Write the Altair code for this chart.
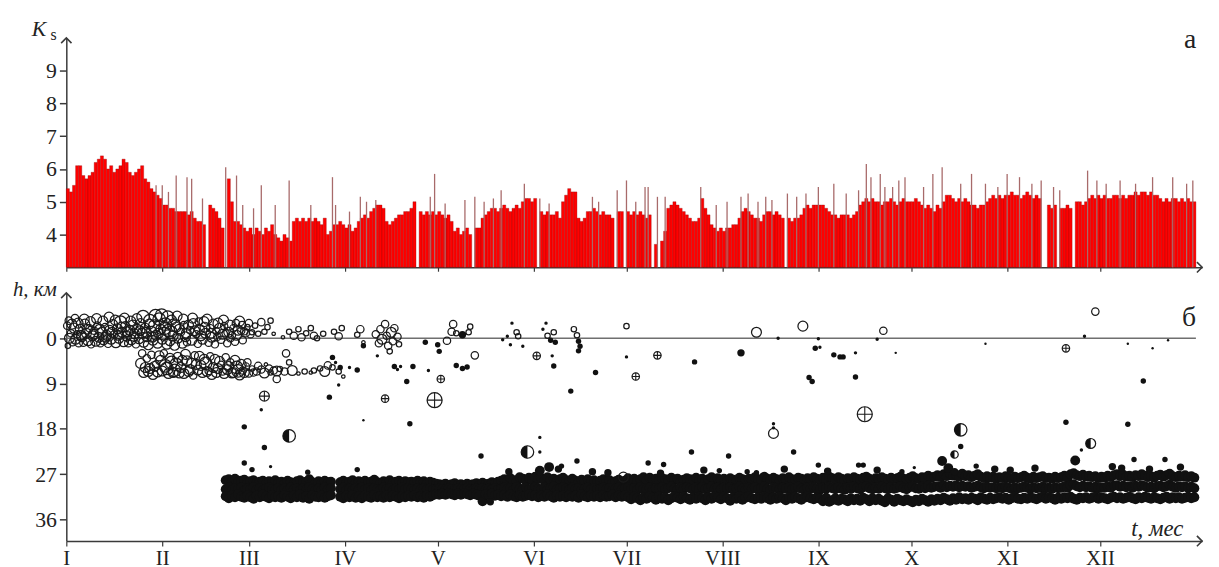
import json
import altair as alt
import pandas as pd

# ---------------- axis categories ----------------
month_start = [0, 31, 59, 90, 120, 151, 181, 212, 243, 273, 304, 334]
month_roman = ["I", "II", "III", "IV", "V", "VI", "VII", "VIII", "IX", "X", "XI", "XII"]
ks_ticks = [4, 5, 6, 7, 8, 9]
h_ticks = [0, 9, 18, 27, 36]

# ---------------- panel a: daily Ks envelope (None = no data) ----------------
ks_jan = [5.4, 5.3, 5.5, 6.1, 6.1, 5.8, 5.7, 5.8, 5.9, 6.2, 6.3, 6.4, 6.3, 6.0, 6.1, 5.9,
          6.0, 6.1, 6.3, 6.2, 5.9, 5.8, 5.9, 6.0, 6.1, 5.7, 5.6, 5.4, 5.3, 5.2, 5.1]
ks_feb = [4.9, 4.9, 4.8, 4.8, 4.7, 4.7, 4.7, 4.7, 4.6, 4.7, 4.5, 4.4, 4.4, 4.3, None,
          4.9, 4.8, 4.7, 4.5, 4.2, None, 5.7, 5.0, 4.4, 4.4, 4.3, 4.2, 4.1]
ks_mar = [4.2, 4.0, 4.2, 4.1, 4.0, 4.2, 4.1, 4.3, 4.0, 3.9, 3.8, 4.0, 3.9, 3.8, 4.4, 4.5,
          4.4, 4.5, 4.4, 4.5, 4.4, 4.5, 4.4, 4.3, 4.5, 4.0, 4.1, 4.3, 4.3, 4.4, 4.3]
ks_apr = [4.2, 4.3, 4.1, 4.2, 4.4, 4.5, 4.6, 4.5, 4.7, 4.8, 4.9, 4.9, 4.8, 4.4, 4.3,
          4.4, 4.5, 4.6, 4.6, 4.7, 4.7, 4.8, 5.0, None, 4.7, 4.6, 4.7, 4.6, 4.7, 4.6]
ks_may = [4.7, 4.6, 4.5, 4.6, 4.4, 4.1, 4.2, 4.0, 4.1, 4.2, 4.0, None, 4.2, 4.2, 4.5, 4.6,
          4.7, 4.8, 4.8, 4.7, 4.8, 4.9, 4.8, 4.7, 4.8, 4.9, 4.8, 5.0, 5.1, 5.1, 5.0]
ks_jun = [5.1, None, 4.7, 4.6, 4.7, 4.6, 4.6, 4.7, 4.5, 5.0, 5.2, 5.4, 5.3, 5.3, 4.5,
          4.4, 4.5, 4.7, 4.7, 4.8, 4.7, 4.6, 4.7, 4.6, 4.6, 4.5, None, 4.7, 4.7, None]
ks_jul = [4.7, 4.6, 4.7, 4.6, 4.7, 4.6, 4.5, 4.6, None, 3.7, None, 3.8, 4.1, 4.8, 4.9, 5.0,
          4.9, 4.8, 4.7, 4.6, 4.5, 4.4, 4.4, 4.5, 5.1, 4.8, 4.6, 4.3, 4.2, 4.1, 4.2]
ks_aug = [4.1, 4.2, 4.2, 4.3, 4.3, 4.5, 4.7, 4.8, 4.7, 4.6, 4.5, 4.5, 4.4, 4.6, 4.7, 4.7,
          4.6, 4.7, 4.6, 4.5, None, 4.5, 4.4, 4.5, 4.5, 4.6, 4.8, 4.9, 4.8, 4.9, 4.9]
ks_sep = [4.9, 4.9, 4.8, 4.7, 4.6, 4.6, 4.5, 4.6, 4.6, 4.6, 4.5, 4.6, 4.7, 4.9, 5.0,
          5.1, 5.0, 5.1, 5.0, 5.0, 4.9, 5.0, 5.0, 5.1, 5.0, 4.9, 5.0, 5.1, 5.0, 5.0]
ks_oct = [5.0, 5.1, 5.0, 4.9, 4.8, 4.9, 4.8, 4.7, 4.9, 4.8, 5.0, 5.2, 5.2, 5.1, 5.0, 5.1,
          5.0, 5.1, 5.0, 4.9, 4.9, 4.8, 4.9, 4.9, 5.0, 5.1, 5.2, 5.1, 5.2, 5.1, 5.2]
ks_nov = [5.2, 5.3, 5.2, 5.2, 5.1, 5.2, 5.3, 5.2, 5.1, 5.2, 5.1, None, None, 4.9, 4.8,
          4.9, None, 4.8, 4.8, 4.9, 4.8, None, 5.0, 5.0, 4.9, 5.0, 5.1, 5.2, 5.1, 5.2]
ks_dec = [5.1, 5.2, 5.1, 5.1, 5.2, 5.2, 5.1, 5.2, 5.1, 5.2, 5.2, 5.3, 5.2, 5.3, 5.3, 5.2,
          5.3, 5.2, 5.2, 5.1, 5.0, 5.1, 5.0, 5.1, 5.1, 5.0, 5.1, 5.0, 5.1, 5.0, 5.0]

# isolated stronger events drawn as thin spikes (day, Ks)
ks_spikes = [(29, 5.5), (31, 5.5), (33, 5.3), (35.5, 5.8), (39, 5.75), (40.5, 5.7), (44, 5.1),
             (51.5, 6.05), (55, 5.8), (57, 4.9), (60.5, 4.8), (63, 5.5), (67.5, 4.9), (72, 5.65),
             (79, 4.9), (86, 5.75), (87, 4.9), (91.5, 4.7), (95, 5.15), (97, 5.0), (100, 5.05),
             (117.6, 5.15), (119, 5.85), (122.4, 4.95), (128.8, 5.05), (132, 5.15), (135, 5.0),
             (138, 5.1), (140.5, 5.35), (148, 5.55), (153, 5.1), (156, 4.95), (170, 5.15),
             (172, 5.0), (178, 5.35), (181, 5.65), (184, 5.0), (187, 5.45), (188, 5.45),
             (191, 5.15), (193.5, 5.15), (205, 5.45), (210, 4.9), (213.5, 5.0), (218, 5.15),
             (220.3, 5.25), (223.5, 5.0), (226, 5.15), (228, 5.05), (233, 5.25), (236, 5.15),
             (239, 5.25), (243, 5.45), (248, 5.55), (252, 5.25), (256, 5.35), (258.5, 6.15),
             (260, 5.75), (263, 5.85), (264.5, 5.45), (267, 5.45), (269, 5.65), (271, 5.75),
             (277, 5.45), (280, 5.85), (283, 6.05), (289, 5.55), (292.5, 5.85), (297, 5.55),
             (301, 5.45), (304, 5.85), (308, 5.75), (312, 5.55), (315, 5.65), (319, 5.45),
             (321, 5.35), (330, 5.95), (333, 5.65), (336, 5.55), (340.5, 5.65), (345.5, 5.55),
             (351, 5.75), (357.5, 5.75), (362, 5.55), (364, 5.65)]

# ---------------- panel b: hypocentres ----------------
# deep band, one value per day starting at day 51 (upper / middle / lower parts of the band)
band_first_day = 51
band_up = [28.2, 28.0, 28.4, 27.9, 28.6, 28.3, 28.1, 28.7, 28.4, 28.2,
           28.8, 28.5, 28.3, 28.9, 28.4, 28.6, 28.2, 28.7, 28.5, 28.9,
           28.3, 28.6, 28.8, 28.4, 28.2, 28.7, 28.5, 28.0, 28.6, 28.8,
           28.4, 28.7, 28.3, 28.6, 28.5, None, None, 28.6, 28.3, 28.7,
           28.5, 28.2, 28.8, 28.4, 28.6, 28.3, 28.7, 28.5, 28.1, 28.6,
           28.8, 28.4, 28.6, 28.2, 28.7, 28.5, 28.3, 28.8, 28.4, 28.6,
           28.5, 28.7, 28.3, 28.6, 28.4, 28.8, 28.5, 28.7, 28.9, 29.0,
           29.1, 28.9, 29.2, 29.0, 28.8, 29.1, 29.0, 29.2, 28.9, 29.1,
           29.0, 28.8, 29.1, 28.7, 29.0, 28.9, 28.6, 28.8, 28.5, 28.3,
           28.0, 28.4, 27.8, 28.2, 28.5, 27.6, 27.9, 28.3, 27.7, 28.1,
           27.5, 28.0, 27.8, 28.3, 27.6, 28.1, 27.9, 28.4, 28.0, 27.7,
           28.2, 28.5, 27.9, 28.3, 28.6, 28.1, 28.4, 28.0, 28.5, 28.2,
           28.6, 28.3, 28.0, 28.5, 28.2, 28.7, 28.4, 28.1, 28.6, 28.3,
           27.8, 28.2, 27.9, 28.4, 28.0, 27.6, 28.3, 27.7, 28.1, 27.9,
           28.3, 27.8, 28.0, 28.4, 27.7, 28.2, 27.9, 28.5, 28.1, 27.8,
           28.0, 28.4, 27.7, 28.2, 27.9, 28.3, 28.0, 27.6, 28.1, 27.8,
           28.2, 27.9, 28.4, 27.8, 28.1, 28.3, 27.7, 28.0, 28.2, 27.9,
           28.3, 27.6, 28.0, 28.2, 27.5, 27.9, 28.1, 27.7, 28.0, 28.3,
           27.8, 28.1, 27.6, 28.0, 28.2, 27.7, 27.9, 28.3, 27.8, 28.0,
           27.6, 27.9, 28.2, 27.7, 28.0, 27.5, 27.8, 28.1, 27.6, 27.9,
           28.2, 27.8, 28.0, 27.6, 27.9, 28.1, 27.7, 27.5, 27.9, 28.2,
           27.8, 28.0, 27.6, 27.9, 28.1, 27.7, 28.0, 27.8, 27.5, 27.9,
           28.1, 27.7, 27.4, 27.8, 28.0, 27.6, 27.9, 27.3, 27.7, 27.5,
           27.2, 27.6, 27.0, 27.4, 26.8, 27.3, 27.1, 27.5, 26.9, 27.4,
           27.2, 27.6, 27.3, 27.0, 27.5, 27.8, 27.4, 27.7, 27.5, 27.9,
           27.6, 27.8, 27.4, 27.7, 27.9, 27.5, 27.8, 27.6, 27.3, 27.7,
           27.9, 27.5, 27.8, 27.6, 27.4, 27.8, 27.7, 27.9, 27.5, 27.8,
           27.6, 27.3, 27.7, 27.0, 26.8, 27.2, 27.4, 27.1, 27.5, 27.3,
           27.6, 27.4, 27.8, 27.5, 27.7, 27.3, 27.6, 27.2, 27.0, 27.4,
           27.1, 27.5, 27.3, 27.6, 27.2, 27.4, 27.0, 27.3, 27.6, 27.4,
           27.7, 27.3, 27.1, 27.5, 27.2, 26.9, 27.4, 27.6, 27.3, 27.5,
           27.2, 27.6, 27.4, 27.7]
band_mid = [30.0, 29.6, 30.2, 29.8, 30.1, 29.7, 30.3, 29.9, 30.0, 29.6,
            30.1, 29.8, 30.2, 29.9, 29.7, 30.0, 30.2, 29.8, 30.1, 29.9,
            30.2, 29.7, 30.0, 29.9, 30.3, 29.8, 30.1, 29.6, 30.0, 30.2,
            29.9, 30.1, 29.7, 30.0, 29.8, None, None, 30.0, 29.7, 30.1,
            29.9, 30.2, 29.8, 30.0, 29.7, 30.1, 29.9, 30.2, 29.8, 30.0,
            30.1, 29.7, 30.0, 29.8, 30.2, 29.9, 30.1, 29.7, 30.0, 29.8,
            30.0, 30.2, 29.9, 30.1, 29.8, 30.0, 29.9, 30.1, 30.0, 29.9,
            30.0, 30.1, 29.9, 30.0, 30.2, 29.9, 30.0, 30.1, 29.8, 30.0,
            30.1, 29.9, 30.0, 29.8, 30.1, 29.9, 30.0, 29.8, 30.1, 29.9,
            29.7, 30.0, 29.8, 30.1, 29.6, 29.9, 30.0, 29.7, 30.1, 29.8,
            29.6, 29.9, 30.0, 29.7, 30.1, 29.8, 29.5, 30.0, 29.8, 29.6,
            29.9, 30.1, 29.7, 30.0, 29.8, 30.1, 29.9, 29.7, 30.0, 29.8,
            30.1, 29.9, 29.7, 30.0, 29.8, 30.2, 29.9, 29.7, 30.0, 29.8,
            29.7, 30.0, 29.8, 30.1, 29.6, 29.9, 30.0, 29.7, 30.1, 29.8,
            29.9, 29.6, 30.0, 29.8, 29.5, 29.9, 30.1, 29.7, 29.9, 29.6,
            29.8, 30.0, 29.7, 29.9, 29.6, 30.0, 29.8, 29.5, 29.9, 29.7,
            30.0, 29.7, 29.9, 29.6, 30.0, 29.8, 29.5, 29.9, 30.1, 29.7,
            29.9, 29.6, 30.0, 29.8, 29.5, 29.9, 30.1, 29.7, 29.8, 30.0,
            29.7, 29.9, 29.6, 30.0, 29.8, 29.5, 29.9, 30.1, 29.7, 29.9,
            29.6, 29.9, 30.1, 29.7, 29.9, 29.5, 29.8, 30.0, 29.6, 29.9,
            30.1, 29.7, 29.9, 29.5, 29.8, 30.0, 29.6, 29.4, 29.8, 30.0,
            29.7, 29.9, 29.5, 29.8, 30.0, 29.6, 29.9, 29.7, 29.4, 29.8,
            30.0, 29.6, 29.4, 29.8, 29.9, 29.5, 29.8, 29.3, 29.7, 29.5,
            29.4, 29.7, 29.2, 29.6, 29.3, 29.5, 29.2, 29.6, 29.3, 29.5,
            29.4, 29.7, 29.5, 29.3, 29.6, 29.8, 29.5, 29.7, 29.6, 29.8,
            29.6, 29.8, 29.5, 29.7, 29.9, 29.6, 29.8, 29.7, 29.4, 29.7,
            29.9, 29.6, 29.8, 29.7, 29.5, 29.8, 29.7, 29.9, 29.6, 29.8,
            29.7, 29.4, 29.7, 29.2, 29.0, 29.4, 29.6, 29.3, 29.6, 29.4,
            29.7, 29.5, 29.8, 29.6, 29.7, 29.4, 29.7, 29.3, 29.2, 29.5,
            29.3, 29.6, 29.4, 29.7, 29.3, 29.5, 29.2, 29.4, 29.7, 29.5,
            29.8, 29.4, 29.3, 29.6, 29.4, 29.1, 29.5, 29.7, 29.4, 29.6,
            29.4, 29.7, 29.5, 29.8]
band_lo = [31.4, 31.8, 31.2, 31.6, 31.0, 31.5, 31.7, 31.3, 31.6, 31.9,
           31.3, 31.6, 31.1, 31.5, 31.8, 31.2, 31.6, 31.4, 31.7, 31.2,
           31.5, 31.8, 31.3, 31.6, 31.1, 31.7, 31.4, 31.9, 31.2, 31.5,
           31.6, 31.3, 31.7, 31.4, 31.2, None, None, 31.5, 31.8, 31.3,
           31.6, 31.2, 31.7, 31.4, 31.8, 31.3, 31.5, 31.7, 31.2, 31.6,
           31.4, 31.7, 31.3, 31.6, 31.2, 31.5, 31.8, 31.4, 31.6, 31.3,
           31.5, 31.2, 31.6, 31.4, 31.7, 31.3, 31.5, 31.2, 31.0, 31.1,
           30.9, 31.1, 30.8, 31.0, 31.2, 30.9, 31.1, 30.8, 31.0, 31.2,
           30.9, 31.1, 31.3, 32.4, 31.0, 31.2, 30.9, 31.3, 31.1, 31.4,
           31.2, 31.5, 31.1, 31.4, 31.6, 31.2, 31.5, 31.3, 31.0, 31.4,
           31.2, 31.6, 31.3, 31.5, 31.1, 31.4, 31.7, 31.2, 31.5, 31.3,
           31.6, 31.2, 31.5, 31.3, 31.7, 31.1, 31.4, 31.6, 31.2, 31.5,
           31.3, 31.6, 31.2, 31.5, 31.4, 31.1, 31.6, 31.3, 31.5, 31.2,
           31.6, 32.0, 31.5, 31.8, 32.2, 31.6, 31.9, 31.4, 31.7, 32.1,
           31.5, 31.9, 31.6, 32.2, 31.8, 31.4, 31.7, 32.0, 31.5, 31.8,
           32.1, 31.6, 31.9, 31.5, 31.8, 32.2, 31.6, 31.9, 31.4, 31.7,
           32.0, 31.5, 31.8, 32.3, 31.6, 31.9, 31.5, 32.1, 31.7, 31.4,
           31.8, 32.0, 31.6, 31.9, 31.5, 31.8, 32.1, 31.6, 31.9, 31.5,
           31.8, 32.2, 31.6, 31.9, 31.5, 31.8, 32.1, 31.7, 31.4, 31.8,
           32.0, 31.6, 31.9, 32.4, 31.7, 32.5, 32.2, 31.8, 32.3, 31.9,
           32.1, 32.4, 31.8, 32.2, 31.9, 32.3, 31.7, 32.0, 32.4, 31.8,
           32.2, 31.9, 32.3, 32.6, 31.8, 32.1, 32.5, 31.9, 32.2, 32.4,
           32.0, 32.3, 32.6, 32.1, 32.4, 31.9, 32.2, 32.5, 32.0, 32.3,
           31.9, 32.2, 31.7, 32.0, 32.3, 31.8, 32.1, 31.6, 32.0, 31.8,
           32.1, 31.7, 31.9, 32.2, 31.6, 31.9, 32.1, 31.7, 32.0, 31.8,
           31.6, 31.9, 31.7, 32.1, 31.8, 31.5, 31.9, 32.0, 31.7, 31.9,
           31.6, 31.8, 32.0, 31.7, 31.5, 31.9, 31.6, 31.8, 32.1, 31.7,
           31.9, 31.6, 31.8, 31.5, 31.9, 32.1, 31.7, 31.8, 31.6, 31.9,
           31.7, 31.5, 31.9, 31.6, 31.8, 32.0, 31.7, 31.5, 31.8, 31.6,
           31.9, 31.7, 31.5, 31.8, 32.0, 31.6, 31.8, 31.5, 31.7, 31.9,
           31.6, 31.8, 32.0, 31.7, 31.5, 31.9, 31.6, 31.8, 31.6, 31.9,
           31.7, 31.5, 31.8, 31.6]

# shallow swarm, Jan-Apr (day, depth km, energy class) - open circles
shallow_swarm = [
    (0.3, -2.5, 9), (0.5, 1.5, 8), (1, 0.0, 10), (1.5, -1.0, 9), (2, 0.8, 9), (2.5, -2.0, 10),
    (3, 0.2, 10), (3.5, -0.8, 9), (4, 1.0, 9), (4.5, -1.8, 10), (5, -0.3, 10), (5.5, 0.9, 9),
    (6, -2.8, 10), (6.5, -1.0, 10), (7, 0.5, 10), (7.5, -2.0, 9), (8, 1.2, 9), (8.5, -0.5, 10),
    (9, -1.5, 9), (9.5, 0.6, 10), (10, -2.5, 9), (10.5, -0.2, 10), (11, 1.0, 9), (11.5, -1.2, 10),
    (12, 0.3, 10), (12.5, -2.2, 9), (13, -0.6, 10), (13.5, 1.1, 9), (14, -1.6, 10), (14.5, 0.2, 10),
    (15, -2.7, 10), (15.5, -0.8, 9), (16, 0.9, 10), (16.5, -1.9, 10), (17, 0.0, 10), (17.5, -3.2, 11),
    (18, -1.2, 10), (18.5, 0.7, 10), (19, -2.3, 10), (19.5, -0.4, 10), (20, 1.0, 9), (20.5, -1.6, 10),
    (21, 0.3, 10), (21.5, -2.6, 10), (22, -0.9, 10), (22.5, 1.2, 9), (23, -1.8, 10), (23.5, 0.1, 10),
    (24, -2.9, 10), (24.5, -1.0, 10), (25, 0.8, 10), (25.5, -2.0, 10), (26, -0.3, 10), (26.5, 1.3, 10),
    (27, -3.5, 11), (27.5, -1.4, 10), (28, 0.4, 10), (28.5, -2.4, 11), (29, -0.6, 10), (29.5, 1.0, 10),
    (30, -3.8, 11), (30.5, -1.8, 10), (31, 0.2, 10), (31.5, -0.9, 11), (32, -2.8, 11), (32.5, 1.2, 10),
    (33, -1.5, 11), (33.5, 0.5, 10), (34, -3.6, 10), (34.5, -0.5, 10), (35, 1.4, 10), (35.5, -2.2, 10),
    (36, 0.0, 10), (37, -1.2, 9), (37.5, 1.0, 10), (38, -2.6, 9), (38.5, -0.3, 10), (39, 0.8, 9),
    (40, -1.6, 9), (40.5, 0.4, 10), (41, -2.9, 10), (42, -0.8, 9), (42.5, 1.1, 9), (43, -1.8, 10),
    (44, 0.2, 10), (44.5, -3.3, 10), (45, -1.0, 10), (46, 0.9, 9), (46.5, -2.0, 9), (47, -0.2, 10),
    (48, 1.2, 9), (48.5, -1.4, 9), (49, -3.0, 10), (50, 0.3, 9), (50.5, -0.8, 10), (51, -2.4, 9),
    (52, 1.0, 9), (52.5, -1.2, 10), (53, 0.0, 9), (54, -2.0, 9), (54.5, 0.7, 9), (55, -0.6, 10),
    (56, -3.4, 10), (56.5, -1.5, 9), (57, 0.4, 9), (58, -1.0, 9), (58.5, -2.2, 8),
    (60, -1.2, 8), (62, -0.9, 8), (64, -1.3, 8), (67, -0.9, 7), (70, -0.2, 7), (72, -1.3, 8),
    (73.5, -0.5, 9), (75, -1.8, 8), (76, -0.2, 9), (77.5, -1.0, 8), (79, -2.0, 8), (80, -0.5, 9),
    (81, 0.0, 8), (83, -0.9, 8), (86.5, -1.3, 8), (88, -0.4, 9), (89, -2.0, 8), (94, -0.7, 8),
    (95, -1.8, 9), (96, 0.8, 7), (100, -0.8, 9), (101, 1.0, 9), (101.5, -1.8, 9), (102, 0.2, 10),
    (103, -2.8, 9), (103.5, -0.5, 9), (104, 1.5, 9), (104.5, 2.6, 8), (105, -1.2, 10),
    (105.5, 0.6, 9), (106, -2.0, 9), (107, -0.3, 9), (107.5, 1.2, 8)]

# upper part of the same swarm (day, depth km, energy class) - open circles
shallow_swarm_top = [
    (0.8, -3.5, 9), (1.8, -2.8, 10), (2.8, -4.0, 9), (3.8, -3.0, 10), (4.8, -0.6, 10), (5.8, -3.8, 10),
    (6.8, -1.8, 10), (7.8, -3.3, 10), (8.8, -0.8, 10), (9.8, -3.9, 10), (10.8, -1.8, 10), (11.8, -3.4, 10),
    (12.8, -0.2, 10), (13.8, -4.2, 10), (14.8, -1.2, 10), (15.8, -3.6, 10), (16.8, -0.6, 10), (17.8, -2.2, 10),
    (18.8, -4.0, 10), (19.8, -1.3, 10), (20.8, -3.4, 10), (21.8, -0.4, 10), (22.8, -3.9, 10), (23.8, -1.5, 10),
    (24.8, -4.3, 11), (25.8, -1.2, 10), (26.8, -2.8, 10), (27.8, -0.2, 10), (28.8, -4.5, 11), (29.8, -1.0, 10),
    (30.8, -4.6, 11), (31.8, -2.0, 11), (32.8, -4.2, 11), (33.8, -1.2, 11), (34.8, -2.6, 11), (35.8, -4.4, 10),
    (36.5, -1.8, 10), (37.8, -3.8, 10), (38.8, -1.0, 10), (39.5, -2.6, 10), (40.8, -4.0, 10), (41.5, -1.5, 10),
    (42.8, -3.3, 9), (43.5, -0.5, 10), (44.8, -2.2, 10), (45.5, -3.8, 10), (46.8, -1.0, 10), (47.5, -2.8, 10),
    (48.8, -0.3, 9), (49.5, -2.0, 10), (50.8, -3.6, 10), (51.5, -1.0, 9), (52.8, -2.6, 10), (53.5, -0.6, 9),
    (54.8, -3.0, 9), (55.5, -1.6, 10), (56.8, -2.6, 9), (57.5, -1.4, 9), (59, -3.0, 9), (59.5, -0.8, 9),
    (61, -2.5, 8), (63, -3.2, 9), (65, -2.2, 8), (66, -3.5, 8)]

# second shallow cluster near 6 km (day, depth, class) - open circles
mid_swarm = [
    (24, 5.0, 10), (25, 6.8, 10), (26, 4.0, 9), (27, 6.0, 10), (28, 7.2, 10), (29, 5.2, 9),
    (30, 3.5, 10), (31, 6.5, 10), (32, 5.5, 11), (33, 7.0, 10), (34, 4.8, 11), (35, 6.4, 11),
    (36, 3.8, 10), (37, 5.8, 10), (38, 7.0, 10), (39, 4.5, 10), (40, 6.2, 10), (41, 7.4, 9),
    (42, 5.2, 10), (43, 3.6, 10), (44, 6.8, 10), (45, 5.0, 11), (46, 6.5, 9), (47, 7.2, 10),
    (48, 4.2, 10), (49, 6.0, 10), (50, 5.3, 9), (51, 7.0, 10), (52, 6.2, 10), (53, 4.8, 9),
    (54, 6.8, 10), (55, 5.8, 11), (56, 7.3, 10), (57, 6.4, 9), (58, 5.6, 9), (59, 7.0, 9),
    (60, 6.0, 8), (61.5, 6.6, 9), (63, 6.2, 9), (64.5, 5.2, 7), (66, 6.8, 8), (68, 6.5, 10),
    (69, 6.1, 8), (70.5, 6.6, 9), (72, 4.8, 8), (73, 6.4, 10), (75, 7.0, 7), (77, 6.6, 8),
    (79, 6.8, 7), (80, 6.4, 8), (82, 6.0, 8), (83.5, 6.6, 10), (84.5, 5.4, 9), (86, 5.8, 8),
    (88, 6.6, 8), (89.5, 7.6, 7),
    (24.5, 3.0, 9), (25.5, 5.8, 10), (26.5, 6.6, 10), (27.5, 3.3, 9), (28.5, 5.6, 10), (29.5, 6.7, 10),
    (30.5, 4.4, 10), (31.5, 3.0, 9), (32.5, 6.0, 11), (33.5, 4.0, 10), (34.5, 6.8, 10), (35.5, 5.2, 11),
    (36.5, 6.9, 10), (37.5, 4.4, 10), (38.5, 3.2, 10), (39.5, 6.6, 10), (40.5, 5.0, 10), (41.5, 3.4, 9),
    (42.5, 6.3, 10), (43.5, 5.4, 10), (44.5, 4.2, 10), (45.5, 6.6, 10), (46.5, 3.6, 9), (47.5, 5.8, 10),
    (48.5, 6.8, 10), (49.5, 4.6, 10), (50.5, 6.6, 9), (51.5, 3.8, 9), (52.5, 5.6, 10), (53.5, 6.9, 10),
    (54.5, 4.4, 10), (55.5, 6.5, 11), (56.5, 5.2, 10), (57.5, 6.8, 10), (58.5, 4.8, 9), (60.5, 6.8, 9),
    (62, 5.5, 9), (64, 6.9, 10), (65.5, 6.0, 9), (67, 6.4, 9)]

# scattered events (day, depth, class, symbol: f filled, o open, x crossed, h half-filled)
scattered = [
    (57.5, 17.6, 8, "f"), (63, 14.2, 7, "f"), (64, 11.5, 10, "x"), (68, 8.1, 9, "o"), (71, 3.0, 9, "o"),
    (72, 19.4, 11, "h"), (64, 21.7, 8, "f"), (57.5, 24.8, 8, "f"), (60, 26.1, 8, "f"), (66, 25.5, 7, "f"),
    (78, 26.6, 8, "f"), (85, 11.7, 8, "f"), (88, 9.3, 7, "f"), (96, 16.3, 6, "f"), (94, 26.1, 8, "f"),
    (103, 12.0, 9, "x"), (111, 17.0, 8, "f"), (110, 8.6, 8, "f"), (86, 3.8, 8, "f"), (87, 4.8, 7, "f"),
    (88.5, 5.8, 8, "f"), (91.5, 5.8, 7, "f"), (94, 6.3, 8, "f"), (96, 1.5, 8, "f"), (100.5, 3.5, 7, "f"),
    (106, 5.6, 8, "f"), (107, 6.2, 7, "f"),
    (116, 0.8, 8, "f"), (120, 1.3, 8, "f"), (120.5, 2.6, 8, "f"), (125, -2.8, 9, "o"), (124.5, -1.3, 9, "o"),
    (126, -1.0, 8, "o"), (128, -0.7, 9, "f"), (130.5, -2.3, 8, "o"), (130, -1.2, 8, "o"), (123, 0.5, 9, "o"),
    (141, 0.3, 7, "f"), (142.5, -0.4, 7, "f"), (144, -3.0, 7, "f"), (145.5, -1.2, 8, "o"), (146, -0.4, 8, "o"),
    (143.5, 1.3, 7, "f"), (147.5, 1.6, 7, "f"), (152, 3.5, 9, "x"), (155, -3.0, 7, "f"), (157, 3.5, 7, "f"),
    (157.5, 5.5, 8, "f"), (154, -1.8, 7, "f"), (155.5, -0.5, 8, "o"), (156.5, 0.4, 8, "f"), (157.5, -1.2, 8, "o"),
    (158, 0.8, 8, "f"), (164, -1.8, 8, "o"), (165, -0.6, 8, "o"), (165.5, 0.6, 8, "f"), (166, 1.6, 8, "f"),
    (165.5, 2.5, 8, "f"), (181, -2.4, 8, "o"), (181, 3.7, 7, "f"), (184, 7.6, 9, "x"), (171, 6.8, 8, "f"),
    (163, 10.5, 8, "f"), (191, 3.4, 9, "x"), (203, 4.7, 8, "f"), (218, 2.9, 9, "f"), (223, -1.2, 10, "o"),
    (230, 0.0, 7, "f"), (238, -2.4, 10, "o"), (240, 7.8, 8, "f"), (228.5, 17.0, 7, "f"), (228.5, 17.8, 7, "f"),
    (228.5, 18.9, 10, "o"), (119, 12.3, 12, "x"), (121, 8.1, 9, "x"), (108, 5.6, 7, "f"), (112, 5.6, 8, "f"),
    (117, 6.4, 7, "f"), (132, 3.4, 9, "o"), (126, 5.4, 8, "f"), (128, 6.0, 8, "f"),
    (129.5, 5.7, 8, "f"), (153, 19.7, 7, "f"), (153, 22.6, 7, "f"), (149, 22.6, 11, "h"), (134, 23.4, 8, "f"),
    (165, 24.4, 8, "f"), (160, 25.4, 8, "f"), (188, 24.8, 8, "f"), (193, 25.1, 8, "f"), (202, 22.6, 8, "f"),
    (214, 23.4, 8, "f"), (235, 22.6, 8, "f"), (223, 26.7, 8, "f"), (220, 26.5, 8, "f"), (211, 26.3, 8, "f"),
    (137, 32.5, 9, "f"), (180, 27.6, 10, "o"),
    (243, 0.1, 7, "f"), (242, 2.0, 8, "f"), (243.5, 1.8, 7, "f"), (241, 8.6, 8, "f"), (248, 3.3, 8, "f"),
    (250, 3.7, 8, "f"), (251, 3.7, 8, "f"), (255, 2.9, 7, "f"), (255, 7.7, 8, "f"), (258, 15.1, 12, "x"),
    (262, 0.2, 7, "f"), (264, -1.5, 9, "o"), (268, 2.9, 6, "f"), (297, 1.1, 6, "f"), (323, 2.0, 9, "x"),
    (329, -0.4, 7, "f"), (332.5, -5.3, 9, "o"), (343, 1.1, 6, "f"), (351, 2.0, 6, "f"), (356, 0.4, 6, "f"),
    (348, 8.5, 8, "f"), (323, 16.7, 8, "f"), (343, 17.1, 8, "f"), (289, 18.2, 11, "h"), (331, 20.9, 10, "h"),
    (328, 22.2, 7, "f"), (289, 21.5, 8, "f"), (287, 23.1, 9, "h"), (283, 24.4, 10, "f"), (345, 24.1, 8, "f"),
    (355, 24.1, 8, "f"), (243, 25.2, 8, "f"), (256, 25.2, 8, "f"), (257.5, 25.2, 8, "f"), (274, 25.7, 7, "f"),
    (294, 25.4, 8, "f"), (326, 24.3, 10, "f"),
    (300, 26.0, 9, "f"), (305, 26.2, 9, "f"), (313, 25.8, 9, "f"), (338, 25.5, 9, "f"), (341, 25.8, 9, "f"),
    (350, 26.0, 9, "f"), (360, 25.6, 9, "f"), (285, 25.8, 10, "f"), (287, 26.5, 9, "f"), (262, 26.2, 9, "f"),
    (270, 26.5, 8, "f"), (246, 26.4, 9, "f"), (232, 26.0, 9, "f"), (206, 26.2, 9, "f"), (192, 26.8, 9, "f"),
    (170, 26.5, 9, "f"), (156, 25.6, 10, "f"), (153, 26.3, 10, "f"), (159, 26.0, 9, "f"), (143, 26.5, 9, "f"),
    (175, 26.7, 9, "f")]

# ---------------- tables ----------------
ks_all = ks_jan + ks_feb + ks_mar + ks_apr + ks_may + ks_jun + ks_jul + ks_aug + ks_sep + ks_oct + ks_nov + ks_dec
df_bars = pd.DataFrame({"day": list(range(len(ks_all))), "ks": ks_all}).dropna()
df_bars["day2"] = df_bars["day"] + 1
df_spk = pd.DataFrame(ks_spikes, columns=["day", "ks"])

band_rows = []
for lst in (band_up, band_mid, band_lo):
    for i, v in enumerate(lst):
        if v is not None:
            band_rows.append({"day": band_first_day + i + 0.5, "h": v})
df_band = pd.DataFrame(band_rows)

ev_rows = [{"day": d, "h": h, "k": k, "t": "o"} for d, h, k in shallow_swarm + shallow_swarm_top + mid_swarm]
ev_rows += [{"day": d, "h": h, "k": k, "t": t} for d, h, k, t in scattered]
df_ev = pd.DataFrame(ev_rows)
one = pd.DataFrame({"a": [0]})

# ---------------- styling ----------------
FONT = "Liberation Serif, Times New Roman, DejaVu Serif, serif"
INK = "#222222"
AX = "#3a3a3a"
W = 1149
UP = "M-1,1L0,0L1,1"
RIGHT = "M-1,-1L0,0L-1,1"
CROSS = "M-1,0L1,0M0,-1L0,1"
HALF = "M0,-1A1,1,0,0,0,0,1Z"

xsc = alt.Scale(domain=[0, 367], nice=False, zero=False)
size_sc = alt.Scale(domain=[6, 7, 8, 9, 10, 11, 12], range=[6, 12, 30, 56, 100, 160, 230])


def yaxis(vals):
    return alt.Axis(values=vals, title=None, grid=False, labelFont=FONT, labelFontSize=22,
                    labelColor=INK, domainColor=AX, domainWidth=1.5, tickColor=AX,
                    tickWidth=1.5, tickSize=7, labelPadding=3)


top_x_axis = alt.Axis(values=month_start, labels=False, title=None, grid=False, domainColor=AX,
                      domainWidth=1.5, tickColor=AX, tickWidth=1.2, tickSize=4)
roman_expr = f"{json.dumps(month_roman)}[indexof({json.dumps(month_start)}, datum.value)]"
bot_x_axis = alt.Axis(values=month_start, labelExpr=roman_expr, title=None, grid=False,
                      labelFont=FONT, labelFontSize=21, labelColor=INK, domainColor=AX,
                      domainWidth=1.5, tickColor=AX, tickWidth=1.2, tickSize=5, labelPadding=2,
                      labelFlush=False, labelOverlap=False)

# ---------------- panel a ----------------
ysc_top = alt.Scale(domain=[3, 10], nice=False, zero=False)
bars = alt.Chart(df_bars).mark_bar(fill="#ff0000", stroke="#8c1010", strokeWidth=0.35).encode(
    x=alt.X("day:Q", scale=xsc, axis=top_x_axis),
    x2="day2:Q",
    y=alt.Y("ks:Q", scale=ysc_top, axis=yaxis(ks_ticks)),
    y2=alt.datum(3),
)
spk = alt.Chart(df_spk).mark_rule(color="#a86a6a", strokeWidth=1.3).encode(
    x="day:Q", y="ks:Q", y2=alt.datum(3))
arr_a1 = alt.Chart(one).mark_point(shape=UP, size=110, filled=False, stroke=AX, strokeWidth=1.6,
                                   opacity=1).encode(x=alt.datum(0), y=alt.datum(10))
arr_a2 = alt.Chart(one).mark_point(shape=RIGHT, size=110, filled=False, stroke=AX, strokeWidth=1.6,
                                   opacity=1).encode(x=alt.datum(367), y=alt.datum(3))
t_K = alt.Chart(one).mark_text(text="K", font=FONT, fontSize=22, fontStyle="italic", align="left",
                               baseline="alphabetic", color=INK).encode(x=alt.value(-35), y=alt.value(-2))
t_s = alt.Chart(one).mark_text(text="s", font=FONT, fontSize=16, align="left",
                               baseline="alphabetic", color=INK).encode(x=alt.value(-16), y=alt.value(2))
t_a = alt.Chart(one).mark_text(text="а", font=FONT, fontSize=28, align="right",
                               baseline="alphabetic", color=INK).encode(x=alt.value(1143), y=alt.value(10))
panel_a = alt.layer(bars, spk, arr_a1, arr_a2, t_K, t_s, t_a).properties(width=W, height=232)

# ---------------- panel b ----------------
ysc_bot = alt.Scale(domain=[-9, 40.3], reverse=True, nice=False, zero=False)
zero_line = alt.Chart(one).mark_rule(color="#6f6f6f", strokeWidth=1.6).encode(
    x=alt.X(datum=0, scale=xsc, axis=bot_x_axis), x2=alt.datum(365),
    y=alt.Y(datum=0, scale=ysc_bot, axis=yaxis(h_ticks)))
band = alt.Chart(df_band).mark_circle(color="#111111", size=100, opacity=1).encode(
    x="day:Q", y="h:Q")
ev_open = alt.Chart(df_ev).transform_filter("datum.t != 'f'").mark_point(
    shape="circle", filled=False, stroke="#1a1a1a", strokeWidth=1.25, opacity=1).encode(
    x="day:Q", y="h:Q", size=alt.Size("k:Q", scale=size_sc, legend=None))
ev_fill = alt.Chart(df_ev).transform_filter("datum.t == 'f'").mark_circle(
    color="#111111", opacity=1).encode(
    x="day:Q", y="h:Q", size=alt.Size("k:Q", scale=size_sc, legend=None))
ev_cross = alt.Chart(df_ev).transform_filter("datum.t == 'x'").mark_point(
    shape=CROSS, filled=False, stroke="#1a1a1a", strokeWidth=1.1, opacity=1).encode(
    x="day:Q", y="h:Q", size=alt.Size("k:Q", scale=size_sc, legend=None))
ev_half = alt.Chart(df_ev).transform_filter("datum.t == 'h'").mark_point(
    shape=HALF, filled=True, color="#111111", opacity=1).encode(
    x="day:Q", y="h:Q", size=alt.Size("k:Q", scale=size_sc, legend=None))
arr_b1 = alt.Chart(one).mark_point(shape=UP, size=110, filled=False, stroke=AX, strokeWidth=1.6,
                                   opacity=1).encode(x=alt.datum(0), y=alt.datum(-9))
arr_b2 = alt.Chart(one).mark_point(shape=RIGHT, size=110, filled=False, stroke=AX, strokeWidth=1.6,
                                   opacity=1).encode(x=alt.datum(367), y=alt.datum(40.3))
t_h = alt.Chart(one).mark_text(text="h, км", font=FONT, fontSize=21, fontStyle="italic", align="left",
                               baseline="alphabetic", color=INK).encode(x=alt.value(-54), y=alt.value(3))
t_b = alt.Chart(one).mark_text(text="б", font=FONT, fontSize=28, align="right",
                               baseline="alphabetic", color=INK).encode(x=alt.value(1143), y=alt.value(33))
t_t = alt.Chart(one).mark_text(text="t, мес", font=FONT, fontSize=23, fontStyle="italic", align="right",
                               baseline="alphabetic", color=INK).encode(x=alt.value(1130), y=alt.value(246))
panel_b = alt.layer(zero_line, band, ev_open, ev_fill, ev_cross, ev_half, arr_b1, arr_b2,
                    t_h, t_b, t_t).properties(width=W, height=251)

chart = alt.vconcat(panel_a, panel_b, spacing=3).properties(
    padding={"left": 5, "top": 7, "right": 5, "bottom": 0},
    background="white",
).configure_view(strokeWidth=0)

chart.save("out.html", embed_options={"renderer": "svg", "actions": False})
